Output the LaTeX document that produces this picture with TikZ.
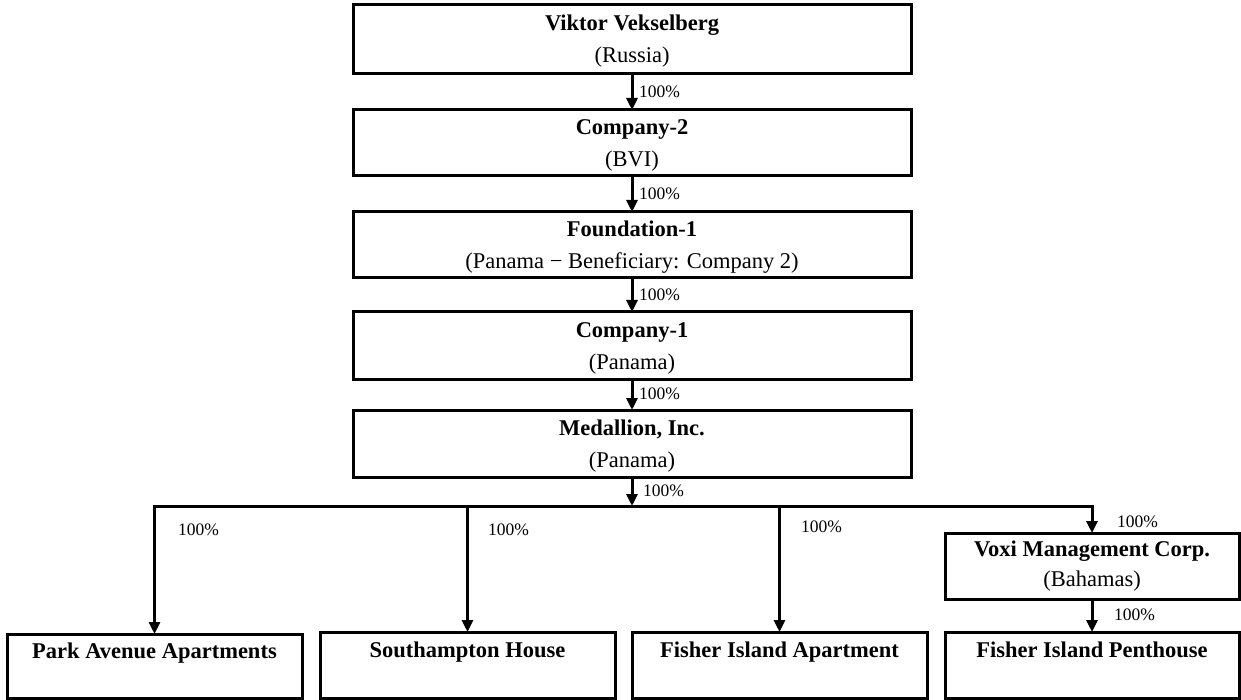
\documentclass[tikz,border=0pt]{standalone}
\usepackage{fontspec}
\setmainfont{Liberation Serif}
\usetikzlibrary{arrows.meta}
\begin{document}
\begin{tikzpicture}[x=1pt,y=-1pt,
  box/.style={draw, line width=3pt, inner sep=0pt, outer sep=0pt, align=center,
    font=\fontsize{22.5}{32}\selectfont},
  arr/.style={line width=3pt, -{Triangle[length=12pt,width=11pt]}},
  pct/.style={font=\fontsize{17.5}{20}\selectfont, anchor=west, inner sep=0pt}]
\useasboundingbox (0,0) rectangle (1241,700);
% main chain
\node[box, minimum width=558pt, minimum height=69pt, text height=58pt, text depth=11pt] (v) at (632,39.5) {\textbf{Viktor Vekselberg}\\(Russia)};
\node[box, minimum width=558pt, minimum height=66pt, text height=57pt, text depth=9pt] (c2) at (632,143) {\textbf{Company-2}\\(BVI)};
\node[box, minimum width=558pt, minimum height=66pt, text height=57pt, text depth=9pt] (f1) at (632,245) {\textbf{Foundation-1}\\(Panama − Beneficiary: Company 2)};
\node[box, minimum width=558pt, minimum height=67pt, text height=57pt, text depth=10pt] (c1) at (632,345.5) {\textbf{Company-1}\\(Panama)};
\node[box, minimum width=558pt, minimum height=67pt, text height=57pt, text depth=10pt] (med) at (632,443.5) {\textbf{Medallion, Inc.}\\(Panama)};
% lower level
\node[box, minimum width=294pt, minimum height=66pt, font=\fontsize{22.5}{30}\selectfont, text height=53pt, text depth=13pt] (voxi) at (1092,566) {\textbf{Voxi Management Corp.}\\(Bahamas)};
\node[box, minimum width=295pt, minimum height=64pt, text height=24pt, text depth=40pt] (park) at (154.5,666) {\textbf{Park Avenue Apartments}};
\node[box, minimum width=295pt, minimum height=66pt, text height=25pt, text depth=41pt] (south) at (467.5,665) {\textbf{Southampton House}};
\node[box, minimum width=295pt, minimum height=66pt, text height=25pt, text depth=41pt] (fapt) at (779.5,665) {\textbf{Fisher Island Apartment}};
\node[box, minimum width=294pt, minimum height=66pt, text height=25pt, text depth=41pt] (pent) at (1092,665) {\textbf{Fisher Island Penthouse}};
% connectors
\draw[arr] (v) -- (c2);
\draw[arr] (c2) -- (f1);
\draw[arr] (f1) -- (c1);
\draw[arr] (c1) -- (med);
\coordinate (bus) at (632,506);
\draw[arr] (med) -- (bus);
\draw[line width=3pt] (park.north |- bus) -- (voxi.north |- bus);
\draw[arr, line join=miter] (bus) -| (park.north);
\draw[arr] (south.north |- bus) -- (south.north);
\draw[arr] (fapt.north |- bus) -- (fapt.north);
\draw[arr, line join=miter] (bus) -| (voxi.north);
\draw[arr] (voxi) -- (pent);
% labels
\node[pct] (l1) at (639,92) {100\%};
\node[pct] (l2) at (639,194) {100\%};
\node[pct] (l3) at (639,295) {100\%};
\node[pct] (l4) at (639,394) {100\%};
\node[pct] (l5) at (643,491) {100\%};
\node[pct] (l6) at (178,530) {100\%};
\node[pct] (l7) at (488,530) {100\%};
\node[pct] (l8) at (801,527) {100\%};
\node[pct] (l9) at (1117,522) {100\%};
\node[pct] (l10) at (1114,615) {100\%};
\end{tikzpicture}
\end{document}
